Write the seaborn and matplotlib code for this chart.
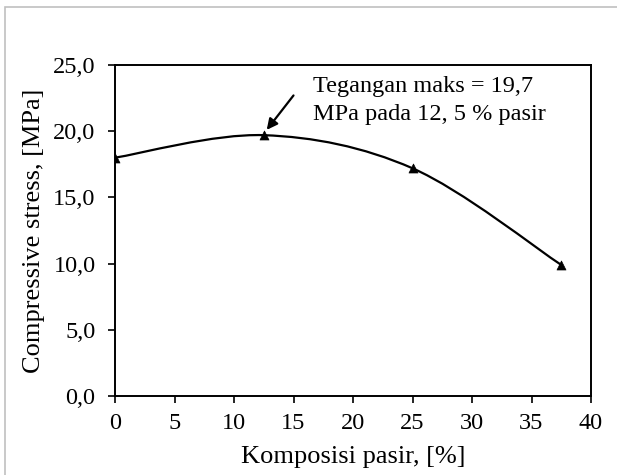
import numpy as np
import pandas as pd
import seaborn as sns
import matplotlib
matplotlib.use("Agg")
import matplotlib.pyplot as plt
from matplotlib.path import Path
from matplotlib.patches import PathPatch, Rectangle
from matplotlib.ticker import FuncFormatter

# Data
komposisi = [0, 12.5, 25, 37.5]
stress = [18.0, 19.7, 17.2, 9.9]
x_ticks = [0, 5, 10, 15, 20, 25, 30, 35, 40]
y_ticks = [0, 5, 10, 15, 20, 25]
annot_lines = ["Tegangan maks = 19,7", "MPa pada 12, 5 % pasir"]

sns.set_theme(style="white")
plt.rcParams["font.family"] = ["Liberation Serif", "DejaVu Serif"]
plt.rcParams["mathtext.default"] = "regular"

fig = plt.figure(figsize=(6.17, 4.75), dpi=100)
ax = fig.add_axes([115/617, 1-396/475, (591-115)/617, (396-65)/475])

# outer gray border
fig.patches.append(Rectangle((5/617, -0.05), 1.2, 1-7/475+0.05, transform=fig.transFigure,
                             fill=False, edgecolor="#c0c0c0", lw=1.2, zorder=0))

# smooth (Excel-like) curve through the points using cubic Bezier segments
P = np.column_stack([komposisi, stress]).astype(float)
n = len(P)
verts = [tuple(P[0])]
codes = [Path.MOVETO]
for i in range(n - 1):
    p0 = P[i - 1] if i > 0 else P[i]
    p1 = P[i]
    p2 = P[i + 1]
    p3 = P[i + 2] if i + 2 < n else P[i + 1]
    c1 = p1 + (p2 - p0) / 6.0
    c2 = p2 - (p3 - p1) / 6.0
    verts += [tuple(c1), tuple(c2), tuple(p2)]
    codes += [Path.CURVE4, Path.CURVE4, Path.CURVE4]
ax.add_patch(PathPatch(Path(verts, codes), fill=False, edgecolor="black", lw=1.6, zorder=2))

df = pd.DataFrame({"Komposisi": komposisi, "Stress": stress})
sns.scatterplot(data=df, x="Komposisi", y="Stress", marker="^", s=42, color="black",
                edgecolor="black", linewidth=0.5, ax=ax, zorder=3)

ax.set_xlim(0, 40)
ax.set_ylim(0, 25)
ax.set_xticks(x_ticks)
ax.set_yticks(y_ticks)
ax.yaxis.set_major_formatter(FuncFormatter(lambda v, p: f"{v:.1f}".replace(".", ",")))
ax.xaxis.set_major_formatter(FuncFormatter(lambda v, p: f"{v:g}"))
ax.tick_params(axis="both", which="major", direction="out", length=5, width=1.2,
               color="black", labelsize=17.5, labelcolor="black",
               bottom=True, left=True)
ax.tick_params(axis="y", pad=9)
ax.tick_params(axis="x", pad=7)
for s in ax.spines.values():
    s.set_visible(True)
    s.set_color("black")
    s.set_linewidth(1.4)

ax.set_xlabel("Komposisi pasir, [%]", fontsize=19, color="black", labelpad=9)
ax.set_ylabel("Compressive stress, [MPa]", fontsize=19, color="black", labelpad=6)

ax.text(16.6, 22.96, annot_lines[0], fontsize=17.5, color="black", va="baseline", ha="left")
ax.text(16.6, 20.85, annot_lines[1], fontsize=17.5, color="black", va="baseline", ha="left")
ax.annotate("", xy=(12.75, 20.1), xytext=(15.0, 22.7),
            arrowprops=dict(arrowstyle="-|>", color="black", lw=1.6, mutation_scale=16,
                            shrinkA=0, shrinkB=0))

fig.savefig("out.png", dpi=100, facecolor="white")
